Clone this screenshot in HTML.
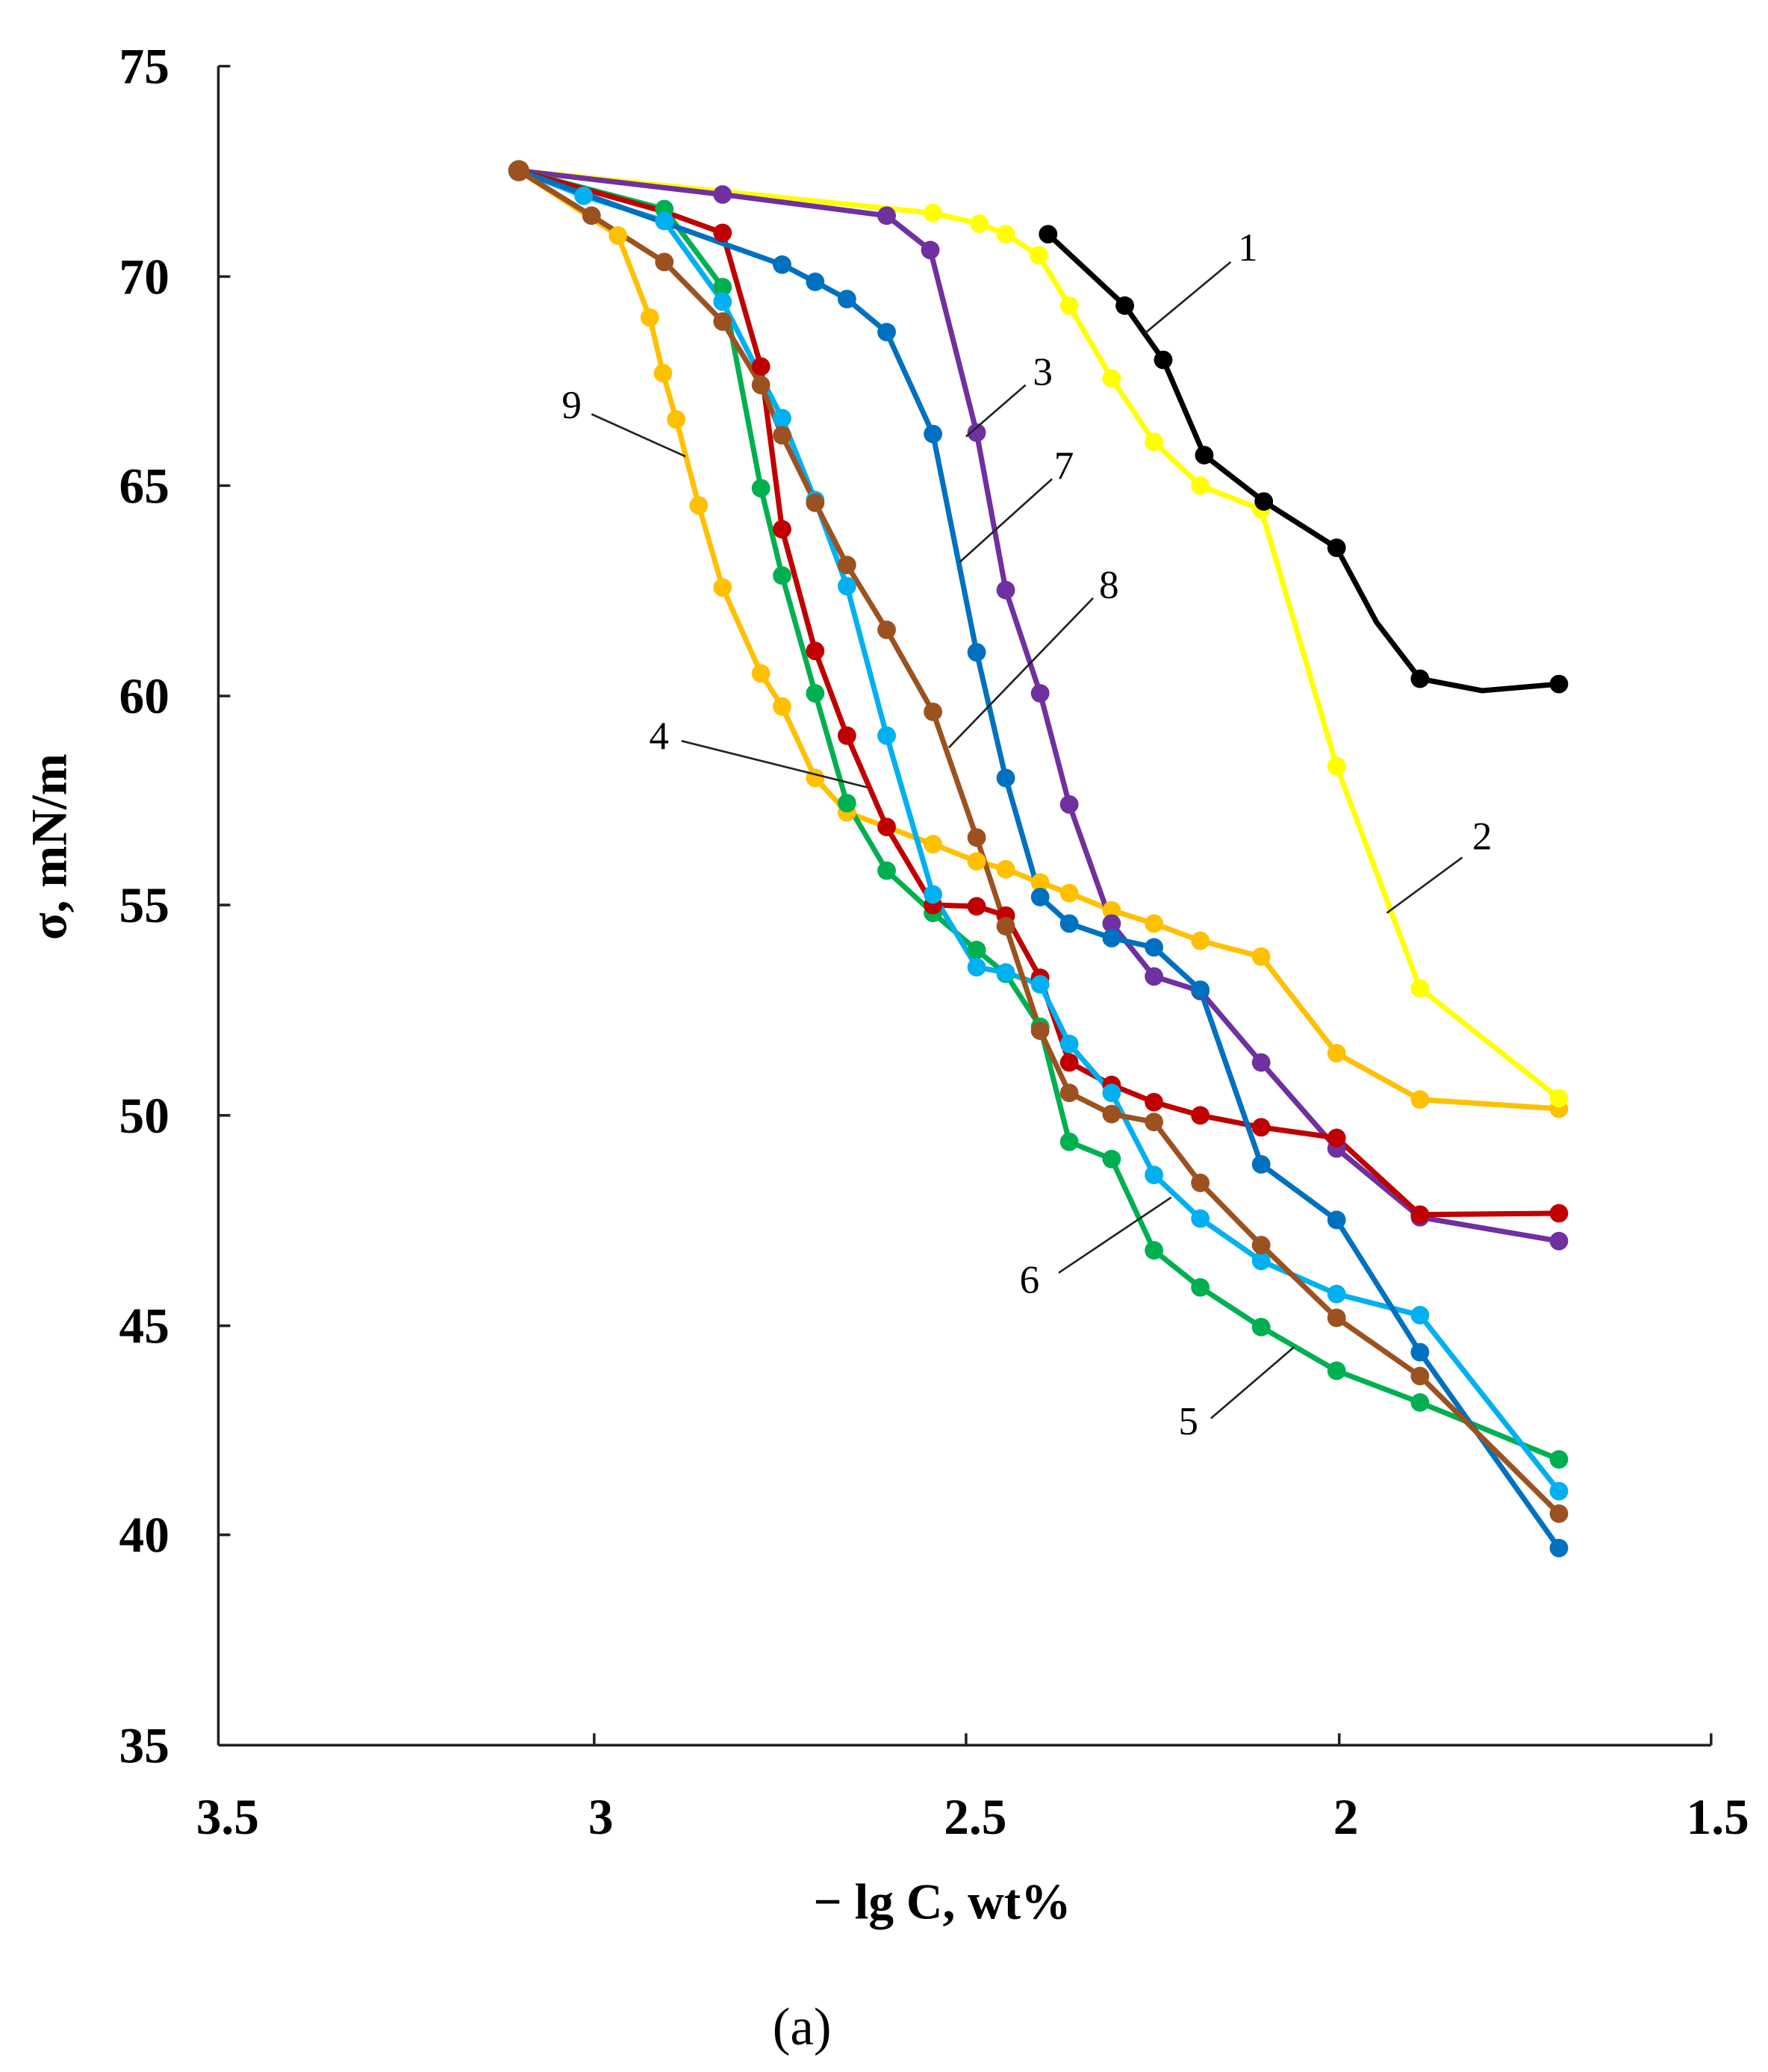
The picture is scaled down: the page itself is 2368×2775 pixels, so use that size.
<!DOCTYPE html>
<html><head><meta charset="utf-8"><style>html,body{margin:0;padding:0;background:#fff}svg{display:block}</style></head>
<body>
<svg width="2368" height="2775" viewBox="0 0 1336 1566" preserveAspectRatio="none" xmlns="http://www.w3.org/2000/svg" font-family="'Liberation Serif', serif">
<rect width="1336" height="1566" fill="#fff"/>
<g stroke="#222" stroke-width="2" fill="none">
<line x1="165" y1="50" x2="165" y2="1319"/>
<line x1="165" y1="1319" x2="1293" y2="1319"/>
<line x1="165" y1="50" x2="174" y2="50"/><line x1="165" y1="209" x2="174" y2="209"/><line x1="165" y1="367" x2="174" y2="367"/><line x1="165" y1="526" x2="174" y2="526"/><line x1="165" y1="684" x2="174" y2="684"/><line x1="165" y1="843" x2="174" y2="843"/><line x1="165" y1="1002" x2="174" y2="1002"/><line x1="165" y1="1160" x2="174" y2="1160"/>
<line x1="449" y1="1319" x2="449" y2="1310"/><line x1="730" y1="1319" x2="730" y2="1310"/><line x1="1012" y1="1319" x2="1012" y2="1310"/><line x1="1293" y1="1319" x2="1293" y2="1310"/>
</g>
<g font-size="38" font-weight="bold" text-anchor="end" fill="#000">
<text x="128" y="63">75</text><text x="128" y="222">70</text><text x="128" y="380">65</text><text x="128" y="539">60</text><text x="128" y="697">55</text><text x="128" y="856">50</text><text x="128" y="1015">45</text><text x="128" y="1173">40</text><text x="128" y="1332">35</text>
</g>
<g font-size="38" font-weight="bold" text-anchor="middle" fill="#000">
<text x="172" y="1386">3.5</text><text x="454" y="1386">3</text><text x="737" y="1386">2.5</text><text x="1017" y="1386">2</text><text x="1298" y="1386">1.5</text>
<text x="712" y="1450">− lg C, wt%</text>
<text transform="translate(50,640) rotate(-90)">σ, mN/m</text>
</g>
<text x="606" y="1545" font-size="40" text-anchor="middle">(a)</text>

<g fill="none" stroke-width="4" stroke-linejoin="round" stroke-linecap="round">
<polyline stroke="#FFC000" points="392,129 467,178 491,240 501,282 511,317 528,382 546,444 575,509 591,534 616,588 640,614 705,638 738,651 760,657 786,667 808,675 840,688 872,698 907,711 953,723 1010,796 1073,831 1178,838"/>
<polyline stroke="#FFFF00" points="392,129 705,161 740,169 760,177 785,193 808,231 840,286 872,334 907,367 953,385 1010,579 1073,747 1178,830"/>
<polyline stroke="#7030A0" points="392,129 546,147 670,163 703,189 738,327 760,446 786,524 808,608 840,698 872,738 907,749 953,803 1010,868 1073,920 1178,938"/>
<polyline stroke="#00B050" points="392,129 502,158 546,217 575,369 591,435 616,524 640,607 670,658 705,690 738,718 760,736 786,776 808,863 840,876 872,945 907,973 953,1003 1010,1036 1073,1060 1178,1103"/>
<polyline stroke="#C00000" points="392,129 502,160 546,176 575,277 591,400 616,492 640,556 670,625 705,684 738,685 760,692 786,739 808,803 840,820 872,833 907,843 953,852 1010,860 1073,918 1178,917"/>
<polyline stroke="#00B0F0" points="392,129 441,148 502,167 546,228 591,316 616,378 640,443 670,556 705,676 738,731 760,735 786,744 808,789 840,826 872,888 907,921 953,953 1010,978 1073,994 1178,1127"/>
<polyline stroke="#0070C0" points="392,129 591,200 616,213 640,226 670,251 705,328 738,493 760,588 786,678 808,698 840,709 872,716 907,748 953,880 1010,922 1073,1022 1178,1170"/>
<polyline stroke="#9C5220" points="392,129 447,163 502,198 546,243 575,291 591,329 616,380 640,427 670,476 705,538 738,633 760,700 786,779 808,826 840,842 872,848 907,894 953,941 1010,996 1073,1040 1178,1144"/>
<polyline stroke="#000000" points="792,177 850,231 879,272 910,344 955,379 1010,414 1040,470 1073,513 1120,522 1178,517"/>
</g>
<g fill="#FFC000"><circle cx="467" cy="178" r="7"/><circle cx="491" cy="240" r="7"/><circle cx="501" cy="282" r="7"/><circle cx="511" cy="317" r="7"/><circle cx="528" cy="382" r="7"/><circle cx="546" cy="444" r="7"/><circle cx="575" cy="509" r="7"/><circle cx="591" cy="534" r="7"/><circle cx="616" cy="588" r="7"/><circle cx="640" cy="614" r="7"/><circle cx="705" cy="638" r="7"/><circle cx="738" cy="651" r="7"/><circle cx="760" cy="657" r="7"/><circle cx="786" cy="667" r="7"/><circle cx="808" cy="675" r="7"/><circle cx="840" cy="688" r="7"/><circle cx="872" cy="698" r="7"/><circle cx="907" cy="711" r="7"/><circle cx="953" cy="723" r="7"/><circle cx="1010" cy="796" r="7"/><circle cx="1073" cy="831" r="7"/><circle cx="1178" cy="838" r="7"/></g>
<g fill="#FFFF00"><circle cx="705" cy="161" r="7"/><circle cx="740" cy="169" r="7"/><circle cx="760" cy="177" r="7"/><circle cx="785" cy="193" r="7"/><circle cx="808" cy="231" r="7"/><circle cx="840" cy="286" r="7"/><circle cx="872" cy="334" r="7"/><circle cx="907" cy="367" r="7"/><circle cx="953" cy="385" r="7"/><circle cx="1010" cy="579" r="7"/><circle cx="1073" cy="747" r="7"/><circle cx="1178" cy="830" r="7"/></g>
<g fill="#7030A0"><circle cx="546" cy="147" r="7"/><circle cx="670" cy="163" r="7"/><circle cx="703" cy="189" r="7"/><circle cx="738" cy="327" r="7"/><circle cx="760" cy="446" r="7"/><circle cx="786" cy="524" r="7"/><circle cx="808" cy="608" r="7"/><circle cx="840" cy="698" r="7"/><circle cx="872" cy="738" r="7"/><circle cx="907" cy="749" r="7"/><circle cx="953" cy="803" r="7"/><circle cx="1010" cy="868" r="7"/><circle cx="1073" cy="920" r="7"/><circle cx="1178" cy="938" r="7"/></g>
<g fill="#00B050"><circle cx="502" cy="158" r="7"/><circle cx="546" cy="217" r="7"/><circle cx="575" cy="369" r="7"/><circle cx="591" cy="435" r="7"/><circle cx="616" cy="524" r="7"/><circle cx="640" cy="607" r="7"/><circle cx="670" cy="658" r="7"/><circle cx="705" cy="690" r="7"/><circle cx="738" cy="718" r="7"/><circle cx="760" cy="736" r="7"/><circle cx="786" cy="776" r="7"/><circle cx="808" cy="863" r="7"/><circle cx="840" cy="876" r="7"/><circle cx="872" cy="945" r="7"/><circle cx="907" cy="973" r="7"/><circle cx="953" cy="1003" r="7"/><circle cx="1010" cy="1036" r="7"/><circle cx="1073" cy="1060" r="7"/><circle cx="1178" cy="1103" r="7"/></g>
<g fill="#C00000"><circle cx="546" cy="176" r="7"/><circle cx="575" cy="277" r="7"/><circle cx="591" cy="400" r="7"/><circle cx="616" cy="492" r="7"/><circle cx="640" cy="556" r="7"/><circle cx="670" cy="625" r="7"/><circle cx="705" cy="684" r="7"/><circle cx="738" cy="685" r="7"/><circle cx="760" cy="692" r="7"/><circle cx="786" cy="739" r="7"/><circle cx="808" cy="803" r="7"/><circle cx="840" cy="820" r="7"/><circle cx="872" cy="833" r="7"/><circle cx="907" cy="843" r="7"/><circle cx="953" cy="852" r="7"/><circle cx="1010" cy="860" r="7"/><circle cx="1073" cy="918" r="7"/><circle cx="1178" cy="917" r="7"/></g>
<g fill="#00B0F0"><circle cx="441" cy="148" r="7"/><circle cx="502" cy="167" r="7"/><circle cx="546" cy="228" r="7"/><circle cx="591" cy="316" r="7"/><circle cx="616" cy="378" r="7"/><circle cx="640" cy="443" r="7"/><circle cx="670" cy="556" r="7"/><circle cx="705" cy="676" r="7"/><circle cx="738" cy="731" r="7"/><circle cx="760" cy="735" r="7"/><circle cx="786" cy="744" r="7"/><circle cx="808" cy="789" r="7"/><circle cx="840" cy="826" r="7"/><circle cx="872" cy="888" r="7"/><circle cx="907" cy="921" r="7"/><circle cx="953" cy="953" r="7"/><circle cx="1010" cy="978" r="7"/><circle cx="1073" cy="994" r="7"/><circle cx="1178" cy="1127" r="7"/></g>
<g fill="#0070C0"><circle cx="591" cy="200" r="7"/><circle cx="616" cy="213" r="7"/><circle cx="640" cy="226" r="7"/><circle cx="670" cy="251" r="7"/><circle cx="705" cy="328" r="7"/><circle cx="738" cy="493" r="7"/><circle cx="760" cy="588" r="7"/><circle cx="786" cy="678" r="7"/><circle cx="808" cy="698" r="7"/><circle cx="840" cy="709" r="7"/><circle cx="872" cy="716" r="7"/><circle cx="907" cy="748" r="7"/><circle cx="953" cy="880" r="7"/><circle cx="1010" cy="922" r="7"/><circle cx="1073" cy="1022" r="7"/><circle cx="1178" cy="1170" r="7"/></g>
<g fill="#9C5220"><circle cx="392" cy="129" r="8"/><circle cx="447" cy="163" r="7"/><circle cx="502" cy="198" r="7"/><circle cx="546" cy="243" r="7"/><circle cx="575" cy="291" r="7"/><circle cx="591" cy="329" r="7"/><circle cx="616" cy="380" r="7"/><circle cx="640" cy="427" r="7"/><circle cx="670" cy="476" r="7"/><circle cx="705" cy="538" r="7"/><circle cx="738" cy="633" r="7"/><circle cx="760" cy="700" r="7"/><circle cx="786" cy="779" r="7"/><circle cx="808" cy="826" r="7"/><circle cx="840" cy="842" r="7"/><circle cx="872" cy="848" r="7"/><circle cx="907" cy="894" r="7"/><circle cx="953" cy="941" r="7"/><circle cx="1010" cy="996" r="7"/><circle cx="1073" cy="1040" r="7"/><circle cx="1178" cy="1144" r="7"/></g>
<g fill="#000"><circle cx="792" cy="177" r="7"/><circle cx="850" cy="231" r="7"/><circle cx="879" cy="272" r="7"/><circle cx="910" cy="344" r="7"/><circle cx="955" cy="379" r="7"/><circle cx="1010" cy="414" r="7"/><circle cx="1073" cy="513" r="7"/><circle cx="1178" cy="517" r="7"/></g>

<g stroke="#222" stroke-width="1.5">
<line x1="930" y1="198" x2="865" y2="252"/><line x1="1105" y1="648" x2="1048" y2="690"/><line x1="775" y1="291" x2="730" y2="330"/><line x1="795" y1="362" x2="725" y2="425"/><line x1="826" y1="452" x2="717" y2="565"/><line x1="447" y1="313" x2="518" y2="345"/><line x1="515" y1="560" x2="655" y2="595"/><line x1="800" y1="962" x2="885" y2="905"/><line x1="915" y1="1072" x2="978" y2="1018"/>
</g>
<g font-size="30" fill="#000" text-anchor="middle">
<text x="943" y="197">1</text><text x="1120" y="642">2</text><text x="788" y="291">3</text><text x="804" y="362">7</text><text x="838" y="452">8</text><text x="432" y="316">9</text><text x="498" y="566">4</text><text x="778" y="977">6</text><text x="898" y="1084">5</text>
</g>
</svg>
</body></html>
